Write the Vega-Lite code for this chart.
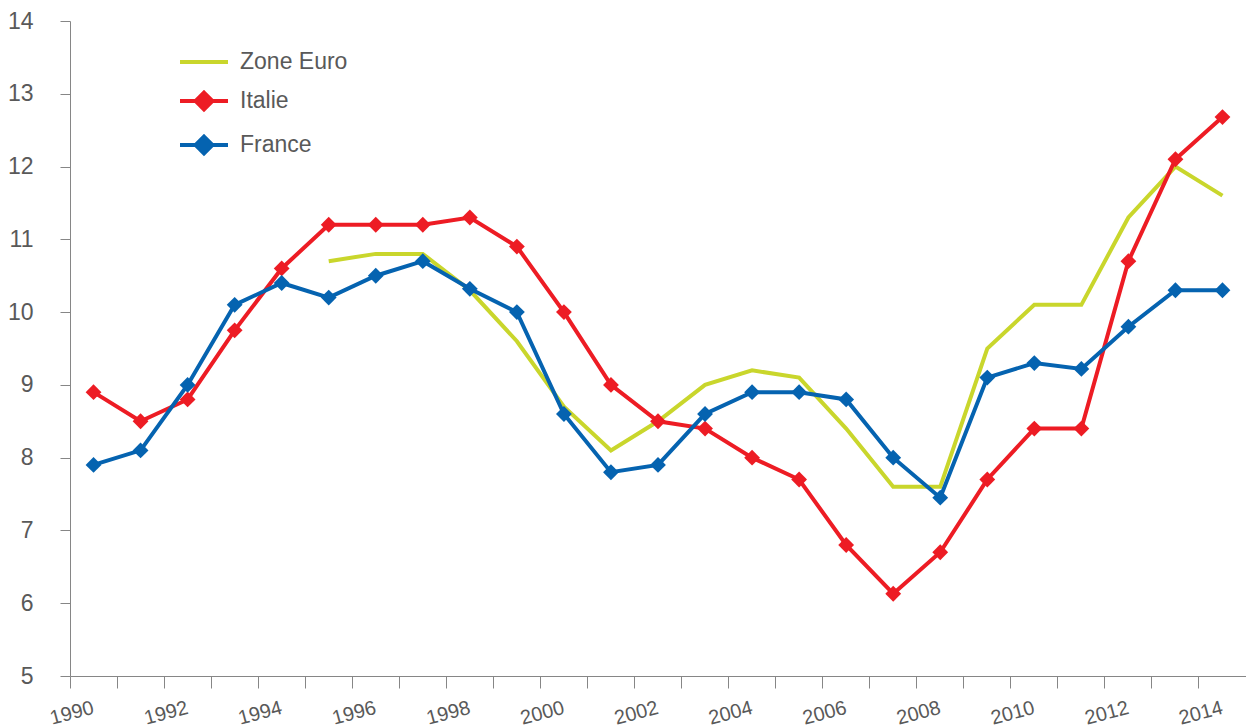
{
  "$schema": "https://vega.github.io/schema/vega-lite/v6.json",
  "width": 1176,
  "height": 655,
  "autosize": {"type": "none"},
  "padding": {"left": 70, "top": 21, "right": 0, "bottom": 52},
  "config": {"view": {"stroke": null}, "font": "Liberation Sans"},
  "data": {"values": [
    {"serie": "Zone Euro", "annee": 1995, "taux": 10.7},
    {"serie": "Zone Euro", "annee": 1996, "taux": 10.8},
    {"serie": "Zone Euro", "annee": 1997, "taux": 10.8},
    {"serie": "Zone Euro", "annee": 1998, "taux": 10.3},
    {"serie": "Zone Euro", "annee": 1999, "taux": 9.6},
    {"serie": "Zone Euro", "annee": 2000, "taux": 8.7},
    {"serie": "Zone Euro", "annee": 2001, "taux": 8.1},
    {"serie": "Zone Euro", "annee": 2002, "taux": 8.5},
    {"serie": "Zone Euro", "annee": 2003, "taux": 9.0},
    {"serie": "Zone Euro", "annee": 2004, "taux": 9.2},
    {"serie": "Zone Euro", "annee": 2005, "taux": 9.1},
    {"serie": "Zone Euro", "annee": 2006, "taux": 8.4},
    {"serie": "Zone Euro", "annee": 2007, "taux": 7.6},
    {"serie": "Zone Euro", "annee": 2008, "taux": 7.6},
    {"serie": "Zone Euro", "annee": 2009, "taux": 9.5},
    {"serie": "Zone Euro", "annee": 2010, "taux": 10.1},
    {"serie": "Zone Euro", "annee": 2011, "taux": 10.1},
    {"serie": "Zone Euro", "annee": 2012, "taux": 11.3},
    {"serie": "Zone Euro", "annee": 2013, "taux": 12.0},
    {"serie": "Zone Euro", "annee": 2014, "taux": 11.6},
    {"serie": "Italie", "annee": 1990, "taux": 8.9},
    {"serie": "Italie", "annee": 1991, "taux": 8.5},
    {"serie": "Italie", "annee": 1992, "taux": 8.8},
    {"serie": "Italie", "annee": 1993, "taux": 9.75},
    {"serie": "Italie", "annee": 1994, "taux": 10.6},
    {"serie": "Italie", "annee": 1995, "taux": 11.2},
    {"serie": "Italie", "annee": 1996, "taux": 11.2},
    {"serie": "Italie", "annee": 1997, "taux": 11.2},
    {"serie": "Italie", "annee": 1998, "taux": 11.3},
    {"serie": "Italie", "annee": 1999, "taux": 10.9},
    {"serie": "Italie", "annee": 2000, "taux": 10.0},
    {"serie": "Italie", "annee": 2001, "taux": 9.0},
    {"serie": "Italie", "annee": 2002, "taux": 8.5},
    {"serie": "Italie", "annee": 2003, "taux": 8.4},
    {"serie": "Italie", "annee": 2004, "taux": 8.0},
    {"serie": "Italie", "annee": 2005, "taux": 7.7},
    {"serie": "Italie", "annee": 2006, "taux": 6.8},
    {"serie": "Italie", "annee": 2007, "taux": 6.13},
    {"serie": "Italie", "annee": 2008, "taux": 6.7},
    {"serie": "Italie", "annee": 2009, "taux": 7.7},
    {"serie": "Italie", "annee": 2010, "taux": 8.4},
    {"serie": "Italie", "annee": 2011, "taux": 8.4},
    {"serie": "Italie", "annee": 2012, "taux": 10.7},
    {"serie": "Italie", "annee": 2013, "taux": 12.1},
    {"serie": "Italie", "annee": 2014, "taux": 12.68},
    {"serie": "France", "annee": 1990, "taux": 7.9},
    {"serie": "France", "annee": 1991, "taux": 8.1},
    {"serie": "France", "annee": 1992, "taux": 9.0},
    {"serie": "France", "annee": 1993, "taux": 10.1},
    {"serie": "France", "annee": 1994, "taux": 10.4},
    {"serie": "France", "annee": 1995, "taux": 10.2},
    {"serie": "France", "annee": 1996, "taux": 10.5},
    {"serie": "France", "annee": 1997, "taux": 10.7},
    {"serie": "France", "annee": 1998, "taux": 10.32},
    {"serie": "France", "annee": 1999, "taux": 10.0},
    {"serie": "France", "annee": 2000, "taux": 8.6},
    {"serie": "France", "annee": 2001, "taux": 7.8},
    {"serie": "France", "annee": 2002, "taux": 7.9},
    {"serie": "France", "annee": 2003, "taux": 8.6},
    {"serie": "France", "annee": 2004, "taux": 8.9},
    {"serie": "France", "annee": 2005, "taux": 8.9},
    {"serie": "France", "annee": 2006, "taux": 8.8},
    {"serie": "France", "annee": 2007, "taux": 8.0},
    {"serie": "France", "annee": 2008, "taux": 7.45},
    {"serie": "France", "annee": 2009, "taux": 9.1},
    {"serie": "France", "annee": 2010, "taux": 9.3},
    {"serie": "France", "annee": 2011, "taux": 9.22},
    {"serie": "France", "annee": 2012, "taux": 9.8},
    {"serie": "France", "annee": 2013, "taux": 10.3},
    {"serie": "France", "annee": 2014, "taux": 10.3}
  ]},
  "encoding": {
    "x": {
      "field": "annee",
      "type": "ordinal",
      "bandPosition": 0.5,
      "scale": {"type": "band", "paddingInner": 0, "paddingOuter": 0},
      "axis": {
        "title": null,
        "bandPosition": 0,
        "labelExpr": "datum.value % 2 === 0 ? datum.label : ''",
        "labelAngle": -15,
        "labelAlign": "right",
        "labelBaseline": "middle",
        "labelPadding": 19,
        "labelOverlap": false,
        "labelBound": false,
        "labelFontSize": 20,
        "labelColor": "#595959",
        "labelFont": "Liberation Sans",
        "tickSize": 12,
        "tickColor": "#868686",
        "domainColor": "#868686",
        "grid": false
      }
    },
    "y": {
      "field": "taux",
      "type": "quantitative",
      "scale": {"domain": [5, 14], "nice": false, "zero": false},
      "axis": {
        "title": null,
        "values": [5, 6, 7, 8, 9, 10, 11, 12, 13, 14],
        "tickSize": 10,
        "labelPadding": 27,
        "labelFontSize": 23,
        "labelColor": "#595959",
        "labelFont": "Liberation Sans",
        "tickColor": "#868686",
        "domainColor": "#868686",
        "grid": false
      }
    },
    "color": {
      "field": "serie",
      "type": "nominal",
      "sort": ["Zone Euro", "Italie", "France"],
      "scale": {"domain": ["Zone Euro", "Italie", "France"], "range": ["#C9D62C", "#ED1C24", "#0563B0"]},
      "legend": {
        "title": null,
        "orient": "none",
        "legendX": 120,
        "legendY": 27,
        "padding": 0,
        "symbolSize": 576,
        "symbolStrokeWidth": 4,
        "labelFontSize": 23,
        "labelFont": "Liberation Sans",
        "labelColor": "#595959",
        "labelOffset": 22,
        "rowPadding": 10,
        "encode": {
          "symbols": {
            "update": {
              "shape": {"signal": "datum.value === 'Zone Euro' ? 'M-2,0H2' : 'M-2,0H2M0,-0.7L0.7,0L0,0.7L-0.7,0Z'"},
              "fill": {"signal": "scale('color', datum.value)"},
              "stroke": {"signal": "scale('color', datum.value)"},
              "strokeWidth": {"value": 4},
              "opacity": {"value": 1},
              "fillOpacity": {"value": 1},
              "strokeOpacity": {"value": 1}
            }
          }
        }
      }
    }
  },
  "layer": [
    {"mark": {"type": "line", "strokeWidth": 4}},
    {
      "transform": [{"filter": "datum.serie !== 'Zone Euro'"}],
      "mark": {"type": "point", "shape": "diamond", "filled": true, "size": 250, "opacity": 1}
    }
  ]
}
